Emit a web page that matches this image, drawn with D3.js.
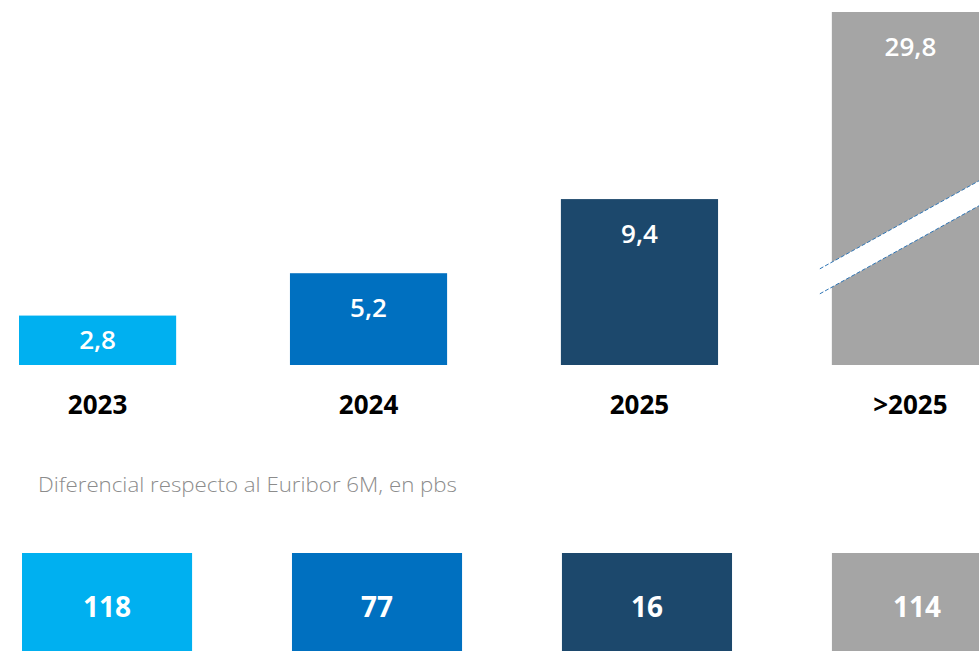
<!DOCTYPE html>
<html>
<head>
<meta charset="utf-8">
<script src="https://cdn.jsdelivr.net/npm/d3@7"></script>
<style>
  html, body { margin: 0; padding: 0; background: #ffffff; overflow: hidden; }
  svg { display: block; }
  text { font-family: "Open Sans", "Noto Sans", sans-serif; }
</style>
</head>
<body>
<svg id="chart" width="979" height="651"></svg>
<script>
// ---- data ----
const categories = ["2023", "2024", "2025", ">2025"];
const values = [2.8, 5.2, 9.4, 29.8];
const valueLabels = ["2,8", "5,2", "9,4", "29,8"];
const spreads = [118, 77, 16, 114];
const colors = ["#00B0F0", "#0070C0", "#1C486C", "#A5A5A5"];
const subtitle = "Diferencial respecto al Euribor 6M, en pbs";
const axisMax = 20; // broken axis: bars above this are cut

const svg = d3.select("#chart");

const x = d3.scaleBand().domain(categories).range([19, 989]).paddingInner(0.42).paddingOuter(0);
const y = d3.scaleLinear().domain([0, axisMax]).range([365, 12]).clamp(true);
const xb = d3.scaleBand().domain(categories).range([22, 1002]).paddingInner(0.37).paddingOuter(0);

const rows = categories.map((c, i) => ({ c, v: values[i], lab: valueLabels[i], s: spreads[i], col: colors[i] }));

// bars
svg.selectAll("rect.bar").data(rows).join("rect")
  .attr("class", "bar")
  .attr("x", d => x(d.c))
  .attr("y", d => y(d.v))
  .attr("width", x.bandwidth())
  .attr("height", d => y(0) - y(d.v))
  .attr("fill", d => d.col);

// axis break on bars exceeding the axis
rows.filter(d => d.v > axisMax).forEach(d => {
  const x0 = x(d.c) - 12, x1 = 979;
  const slope = -0.553;
  const yU0 = y(5.45), yL0 = yU0 + 25;
  const pts = [[x0, yU0], [x1, yU0 + slope * (x1 - x0)], [x1, yL0 + slope * (x1 - x0)], [x0, yL0]];
  svg.append("path").attr("d", d3.line()(pts) + "Z").attr("fill", "#ffffff");
  [[pts[0], pts[1]], [pts[3], pts[2]]].forEach(seg => {
    svg.append("path").attr("d", d3.line()(seg))
      .attr("stroke", "#2E75B6").attr("stroke-width", 1)
      .attr("stroke-dasharray", "4,2").attr("fill", "none");
  });
});

// value labels inside bars
svg.selectAll("text.val").data(rows).join("text")
  .attr("class", "val")
  .attr("x", d => x(d.c) + x.bandwidth() / 2)
  .attr("y", d => { const top = y(d.v), h = y(0) - top; return top + Math.min(44, h / 2 + 9); })
  .attr("text-anchor", "middle")
  .attr("fill", "#ffffff")
  .attr("font-size", 26)
  .attr("font-weight", 600)
  .text(d => d.lab);

// category labels
svg.selectAll("text.cat").data(rows).join("text")
  .attr("class", "cat")
  .attr("x", d => x(d.c) + x.bandwidth() / 2)
  .attr("y", 414)
  .attr("text-anchor", "middle")
  .attr("fill", "#000000")
  .attr("font-size", 26)
  .attr("font-weight", 700)
  .text(d => d.c);

// subtitle
svg.append("text")
  .attr("x", 38).attr("y", 492)
  .attr("fill", "#8C8C8C")
  .attr("font-size", 21)
  .attr("font-weight", 300)
  .attr("textLength", 419)
  .attr("lengthAdjust", "spacingAndGlyphs")
  .text(subtitle);

// spread boxes
svg.selectAll("rect.box").data(rows).join("rect")
  .attr("class", "box")
  .attr("x", d => xb(d.c))
  .attr("y", 553)
  .attr("width", xb.bandwidth())
  .attr("height", 110)
  .attr("fill", d => d.col);

svg.selectAll("text.spread").data(rows).join("text")
  .attr("class", "spread")
  .attr("x", d => xb(d.c) + xb.bandwidth() / 2)
  .attr("y", 617)
  .attr("text-anchor", "middle")
  .attr("fill", "#ffffff")
  .attr("font-size", 28)
  .attr("font-weight", 700)
  .text(d => d.s);
</script>
</body>
</html>
